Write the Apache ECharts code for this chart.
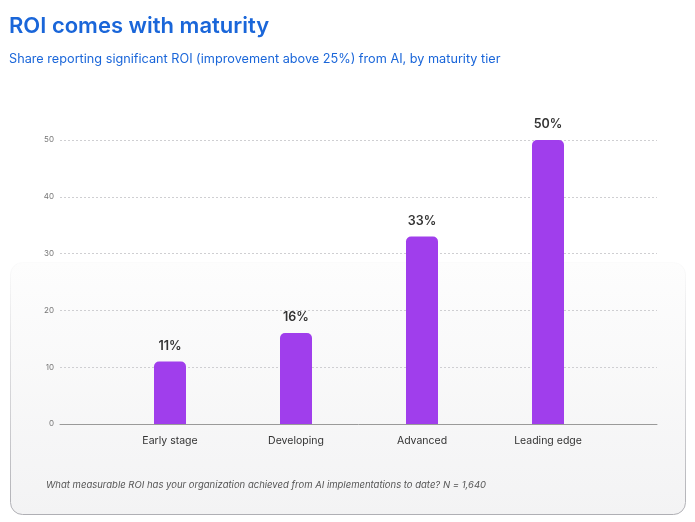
<!DOCTYPE html>
<html>
<head>
<meta charset="utf-8">
<script src="https://cdn.jsdelivr.net/npm/echarts@6/dist/echarts.min.js"></script>
<style>
  html, body { margin: 0; padding: 0; background: #fff; }
  #chart { width: 695px; height: 522px; }
</style>
</head>
<body>
<div id="chart"></div>
<script>
"use strict";

// ── Datos ──────────────────────────────────────────────────────────────────
const categories = ["Early stage", "Developing", "Advanced", "Leading edge"];
const shareValues = [11, 16, 33, 50];
const yTicks = [0, 10, 20, 30, 40, 50];

const BAR_COLOR = "#a03eec";
const FONT = "Inter, 'Noto Sans', sans-serif";

const el = document.getElementById("chart");
const chart = echarts.init(el, null, { renderer: "canvas" });

chart.setOption({
  animation: false,
  title: [
    {
      text: "ROI comes with maturity",
      left: 9, top: 15, padding: 0,
      textStyle: { fontFamily: FONT, fontSize: 22, fontWeight: 600, color: "#1a66d9" },
    },
    {
      text: "Share reporting significant ROI (improvement above 25%) from AI, by maturity tier",
      left: 9, top: 53, padding: 0,
      textStyle: { fontFamily: FONT, fontSize: 12.7, fontWeight: 400, color: "#1a66d9" },
    },
  ],
  graphic: [
    {
      // tarjeta de fondo
      type: "rect", z: -10, silent: true,
      shape: { x: 10.5, y: 262.5, width: 675, height: 252, r: 12 },
      style: {
        fill: new echarts.graphic.LinearGradient(0, 0, 0, 1, [
          { offset: 0, color: "#fdfdfd" },
          { offset: 1, color: "#f3f3f4" },
        ]),
        stroke: new echarts.graphic.LinearGradient(0, 0, 0, 1, [
          { offset: 0, color: "rgba(200,200,204,0.05)" },
          { offset: 0.4, color: "rgba(200,200,204,0.6)" },
          { offset: 1, color: "rgba(175,175,180,1)" },
        ]),
        lineWidth: 1,
      },
    },
    {
      type: "text", left: 46, top: 480,
      style: {
        text: "What measurable ROI has your organization achieved from AI implementations to date? N = 1,640",
        font: "italic 9.5px " + FONT,
        fill: "#555",
      },
    },
  ],
  grid: [
    { left: 60, right: 38, top: 140, bottom: 98 },
    { left: 107, right: 84, top: 140, bottom: 98 },
  ],
  xAxis: [
    {
      gridIndex: 0, type: "value", min: 0, max: 1,
      axisLine: { show: true, onZero: false, lineStyle: { color: "#9a9a9a", width: 1 } },
      axisTick: { show: false }, axisLabel: { show: false }, splitLine: { show: false },
    },
    {
      gridIndex: 1, type: "category", data: categories,
      axisLine: { show: false }, axisTick: { show: false },
      axisLabel: { fontFamily: FONT, fontSize: 10.5, color: "#333", margin: 11 },
    },
  ],
  yAxis: [
    {
      gridIndex: 0, type: "value", min: yTicks[0], max: yTicks[yTicks.length - 1], interval: 10,
      axisLine: { show: false }, axisTick: { show: false },
      axisLabel: { fontFamily: FONT, fontSize: 8, color: "#777", margin: 6 },
      splitLine: { show: true, lineStyle: { color: "#cfcfd2", type: [2, 2], width: 1 } },
    },
    {
      gridIndex: 1, type: "value", min: 0, max: 50, show: false,
      splitLine: { show: false },
    },
  ],
  series: [{
    type: "bar", xAxisIndex: 1, yAxisIndex: 1,
    data: shareValues,
    barWidth: 32,
    itemStyle: { color: BAR_COLOR, borderRadius: [5, 5, 0, 0] },
    label: {
      show: true, position: "top", distance: 9,
      fontFamily: FONT, fontSize: 12.5, fontWeight: 600, color: "#333",
      formatter: p => p.value + "%",
    },
  }],
});
</script>
</body>
</html>
